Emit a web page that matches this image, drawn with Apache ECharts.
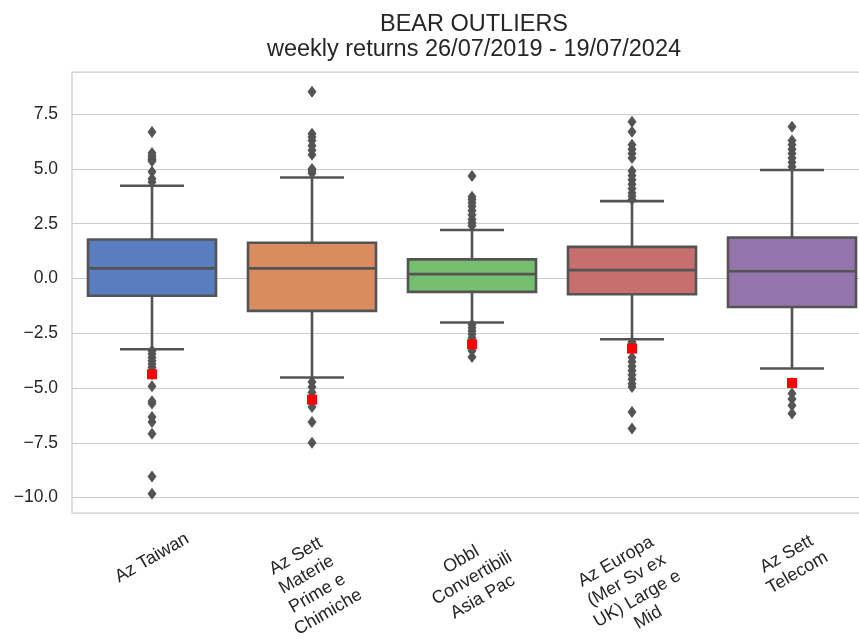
<!DOCTYPE html>
<html>
<head>
<meta charset="utf-8">
<script src="https://cdn.jsdelivr.net/npm/echarts@6/dist/echarts.min.js"></script>
<style>
html,body{margin:0;padding:0;background:#fff;}
#chart{width:859px;height:639px;}
</style>
</head>
<body>
<div id="chart"></div>
<script>
// ---------- data ----------
const categories = [
  'Az Taiwan',
  'Az Sett\nMaterie\nPrime e\nChimiche',
  'Obbl\nConvertibili\nAsia Pac',
  'Az Europa\n(Mer Sv ex\nUK) Large e\nMid',
  'Az Sett\nTelecom'
];
const lowerWhisker = [-3.23, -4.52, -2.01, -2.77, -4.11];
const q1           = [-0.79, -1.48, -0.61, -0.72, -1.30];
const medians      = [ 0.46,  0.46,  0.20,  0.38,  0.33];
const q3           = [ 1.78,  1.63,  0.87,  1.44,  1.87];
const upperWhisker = [ 4.23,  4.61,  2.21,  3.53,  4.95];

const outliersTaiwan  = [6.68, 5.72, 5.6, 5.5, 5.42, 5.35, 4.87, 4.55, 4.4,
  -3.3, -3.45, -3.6, -3.75, -3.9, -4.05, -4.2, -4.37, -4.92, -5.6, -5.7, -6.32, -6.55, -7.08, -9.03, -9.82];
const outliersMaterie = [8.52, 6.6, 6.45, 6.3, 6.05, 5.85, 5.65, 5.0, 4.9, 4.8,
  -4.72, -4.95, -5.2, -5.53, -5.86, -6.55, -7.5];
const outliersObbl    = [4.68, 3.73, 3.6, 3.45, 3.3, 3.1, 2.9, 2.7, 2.55, 2.4,
  -2.1, -2.25, -2.4, -2.55, -2.7, -3.0, -3.3, -3.58];
const outliersEuropa  = [7.15, 6.69, 6.1, 5.9, 5.7, 5.5, 4.9, 4.7, 4.5, 4.3, 4.1, 3.9, 3.75, 3.6,
  -2.9, -3.0, -3.2, -3.6, -3.8, -4.0, -4.2, -4.4, -4.6, -4.8, -4.95, -6.09, -6.85];
const outliersTelecom = [6.92, 6.3, 6.1, 5.9, 5.7, 5.5, 5.3, 5.1,
  -4.77, -5.25, -5.5, -5.8, -6.16];
const outliers = [outliersTaiwan, outliersMaterie, outliersObbl, outliersEuropa, outliersTelecom];

const lastValues = [-4.37, -5.53, -3.0, -3.2, -4.77];

const yTicks = [-10, -7.5, -5, -2.5, 0, 2.5, 5, 7.5];
const yMin = -10.7, yMax = 9.42;

// ---------- style ----------
const boxColors = ['#597dbf', '#da8b5f', '#76bf71', '#c76e6e', '#9475ab'];
const lineColor = '#545454';
const textColor = '#262626';
const FONT = '"Liberation Sans", Arial, sans-serif';
const labelSize = 18, labelLH = 21.6;

// matplotlib-like placement of rotated multi-line tick labels:
// the rotated label block is centred on its tick, its top a fixed pad below the axis
const canvas = document.createElement('canvas');
const cx = canvas.getContext('2d');
cx.font = labelSize + 'px "Liberation Sans"';
const rot = 30 * Math.PI / 180;
const pad = 15;
const labelMargins = categories.map(function (c) {
  const lines = c.split('\n');
  let w = 0;
  lines.forEach(function (l) { w = Math.max(w, cx.measureText(l).width); });
  const h = lines.length * labelLH;
  const H = w * Math.sin(rot) + h * Math.cos(rot);
  return pad + H / 2;
});

const xAxes = categories.map(function (c, k) {
  return {
    type: 'category',
    data: categories,
    position: 'bottom',
    boundaryGap: true,
    axisLine: { show: false },
    axisTick: { show: false },
    splitLine: { show: false },
    axisLabel: {
      interval: 0, rotate: 30, align: 'center', verticalAlign: 'middle',
      margin: labelMargins[k], fontFamily: FONT, fontSize: labelSize, lineHeight: labelLH,
      color: textColor, hideOverlap: false,
      formatter: function (v, idx) { return idx === k ? v : ''; }
    }
  };
});

const boxData = categories.map(function (c, i) {
  return [i, lowerWhisker[i], q1[i], medians[i], q3[i], upperWhisker[i]];
});
const flierData = [];
outliers.forEach(function (arr, i) { arr.forEach(function (v) { flierData.push([i, v]); }); });
const lastData = lastValues.map(function (v, i) { return [i, v]; });

function fmt(v) {
  const s = Math.abs(v).toFixed(1);
  return v < 0 ? '\u2212' + s : s;
}

const chart = echarts.init(document.getElementById('chart'), null, { renderer: 'canvas' });
chart.setOption({
  backgroundColor: '#ffffff',
  animation: false,
  title: {
    text: 'BEAR OUTLIERS\nweekly returns 26/07/2019 - 19/07/2024',
    left: 469,
    top: 7,
    textAlign: 'center',
    textStyle: { fontFamily: FONT, fontSize: 23.5, fontWeight: 'normal', color: textColor, lineHeight: 25 }
  },
  grid: {
    left: 72, right: -13, top: 72, bottom: 126,
    show: true, borderColor: '#cccccc', borderWidth: 1.25,
    containLabel: false, outerBoundsMode: 'none'
  },
  xAxis: xAxes,
  yAxis: {
    type: 'value',
    min: yMin, max: yMax,
    axisLine: { show: false },
    axisTick: { show: false, customValues: yTicks },
    splitLine: { show: true, lineStyle: { color: '#cccccc', width: 1 } },
    axisLabel: {
      customValues: yTicks, formatter: fmt, margin: 14,
      fontFamily: FONT, fontSize: 17.5, color: textColor
    }
  },
  series: [
    {
      type: 'custom',
      data: boxData,
      encode: { x: 0, y: [1, 2, 3, 4, 5] },
      z: 2,
      renderItem: function (params, api) {
        const i = api.value(0);
        const xc = api.coord([i, 0])[0];
        const band = api.size([1, 0])[0];
        const hw = band * 0.4, cw = band * 0.2;
        const yLW = api.coord([i, api.value(1)])[1];
        const yQ1 = api.coord([i, api.value(2)])[1];
        const yMed = api.coord([i, api.value(3)])[1];
        const yQ3 = api.coord([i, api.value(4)])[1];
        const yUW = api.coord([i, api.value(5)])[1];
        const ls = { stroke: lineColor, lineWidth: 2.6 };
        return {
          type: 'group',
          children: [
            { type: 'line', shape: { x1: xc, y1: yQ3, x2: xc, y2: yUW }, style: ls },
            { type: 'line', shape: { x1: xc - cw, y1: yUW, x2: xc + cw, y2: yUW }, style: ls },
            { type: 'line', shape: { x1: xc, y1: yQ1, x2: xc, y2: yLW }, style: ls },
            { type: 'line', shape: { x1: xc - cw, y1: yLW, x2: xc + cw, y2: yLW }, style: ls },
            { type: 'rect', shape: { x: xc - hw, y: yQ3, width: 2 * hw, height: yQ1 - yQ3 },
              style: { fill: boxColors[i], stroke: lineColor, lineWidth: 2.6 } },
            { type: 'line', shape: { x1: xc - hw, y1: yMed, x2: xc + hw, y2: yMed }, style: ls }
          ]
        };
      }
    },
    {
      type: 'scatter',
      data: flierData,
      symbol: 'diamond',
      symbolSize: [9, 12],
      itemStyle: { color: lineColor, opacity: 1 },
      z: 3
    },
    {
      type: 'scatter',
      data: lastData,
      symbol: 'rect',
      symbolSize: 10,
      itemStyle: { color: '#ff0000', opacity: 1 },
      z: 4
    }
  ]
});
</script>
</body>
</html>
